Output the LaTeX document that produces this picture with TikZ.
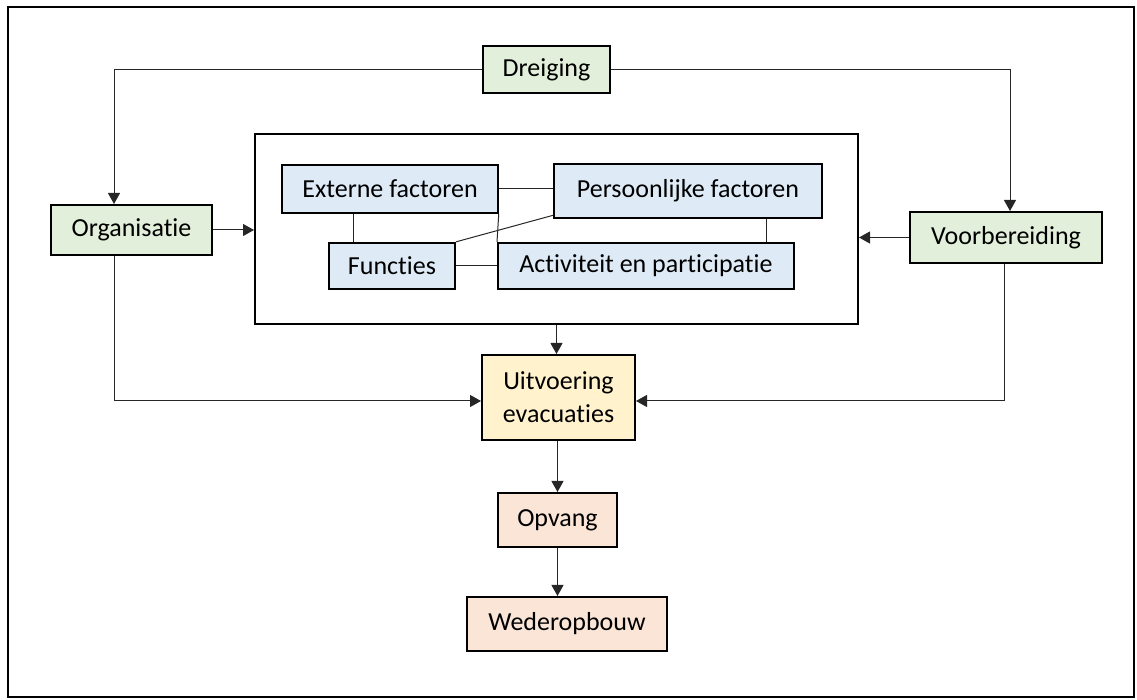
\documentclass[tikz,border=0pt]{standalone}
\usepackage{fontspec}
\setmainfont{Carlito}[Ligatures=NoCommon]
\usetikzlibrary{arrows.meta}
\definecolor{groen}{HTML}{E2EFDA}
\definecolor{blauw}{HTML}{DEEBF7}
\definecolor{geel}{HTML}{FFF2CC}
\definecolor{roze}{HTML}{FBE5D6}

\begin{document}
\begin{tikzpicture}[x=0.5pt,y=-0.5pt,every node/.style={draw,line width=1pt,inner sep=0pt,align=center,font=\fontsize{13}{16.5}\selectfont},pijl/.style={-{Triangle[length=5.5pt,width=6pt]},black!85,line width=0.5pt},lijn/.style={black!85,line width=0.5pt}]
  \useasboundingbox (0,0) rectangle (1137,700);
  \draw[line width=1pt] (8,7) rectangle (1134,697);
  \node (dreiging) at (546.5,69.5)[fill=groen,minimum width=63.5pt,minimum height=23.5pt]{Dreiging};
  \node (organisatie) at (131.5,230)[fill=groen,minimum width=80.5pt,minimum height=25pt]{Organisatie};
  \node (voorbereiding) at (1006,237.5)[fill=groen,minimum width=96pt,minimum height=25.5pt]{Voorbereiding};
  \node (kader) at (556.5,229)[minimum width=301.5pt,minimum height=95pt]{};
  \node (extern) at (390,189)[fill=blauw,minimum width=107.75pt,minimum height=23.85pt]{Externe factoren};
  \node (persoonlijk) at (688,191)[fill=blauw,minimum width=133.75pt,minimum height=26.85pt]{Persoonlijke factoren};
  \node (functies) at (392,266)[fill=blauw,minimum width=63pt,minimum height=23.15pt]{Functies};
  \node (activiteit) at (646,266)[fill=blauw,minimum width=148pt,minimum height=23.15pt]{Activiteit en participatie};
  \node (uitvoering) at (558.5,397.5)[fill=geel,minimum width=76.5pt,minimum height=42.5pt]{Uitvoering\\evacuaties};
  \node (opvang) at (557.5,520)[fill=roze,minimum width=59.5pt,minimum height=27pt]{Opvang};
  \node (wederopbouw) at (567,624)[fill=roze,minimum width=100pt,minimum height=27pt]{Wederopbouw};
  \draw[pijl](dreiging.west)-|([xshift=-8.75pt]organisatie.north);
  \draw[pijl](dreiging.east)-|([xshift=2pt]voorbereiding.north);
  \draw[pijl](organisatie.east)--(organisatie.east-|kader.west);
  \draw[pijl](voorbereiding.west)--(voorbereiding.west-|kader.east);
  \draw[pijl](kader.south)--(kader.south|-uitvoering.north);
  \draw[pijl]([xshift=-8.75pt]organisatie.south)|-([yshift=-1.75pt]uitvoering.west);
  \draw[pijl]([xshift=-1pt]voorbereiding.south)|-([yshift=-1.75pt]uitvoering.east);
  \draw[pijl](uitvoering.south-|opvang.north)--(opvang.north);
  \draw[pijl](opvang.south)--(opvang.south|-wederopbouw.north);
  \draw[lijn](extern.east)--(extern.east-|persoonlijk.west);
  \draw[lijn]([xshift=12.5pt]functies.north west)--([xshift=12.5pt]functies.north west|-extern.south);
  \draw[lijn](extern.south east)--(activiteit.north west);
  \draw[lijn]([yshift=1.8pt]persoonlijk.south west)--(functies.north east);
  \draw[lijn](functies.east)--(activiteit.west);
  \draw[lijn]([xshift=-28pt]persoonlijk.south east)--([xshift=-28pt]persoonlijk.south east|-activiteit.north);
\end{tikzpicture}
\end{document}
